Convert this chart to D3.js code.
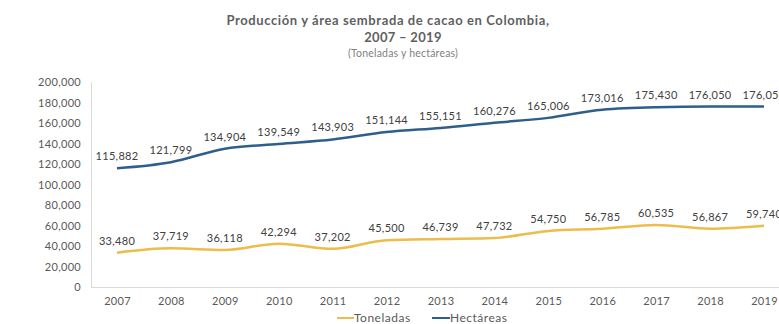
<!DOCTYPE html>
<html>
<head>
<meta charset="utf-8">
<script src="https://cdn.jsdelivr.net/npm/d3@7"></script>
<style>
	body { margin: 0; background: #fff; }
	svg { display: block; font-family: Lato, "Open Sans", sans-serif; }
</style>
</head>
<body>
<div id="chart"></div>
<script>
const years = [2007, 2008, 2009, 2010, 2011, 2012, 2013, 2014, 2015, 2016, 2017, 2018, 2019];
const toneladas = [33480, 37719, 36118, 42294, 37202, 45500, 46739, 47732, 54750, 56785, 60535, 56867, 59740];
const hectareas = [115882, 121799, 134904, 139549, 143903, 151144, 155151, 160276, 165006, 173016, 175430, 176050, 176050];
const yTicks = [0, 20000, 40000, 60000, 80000, 100000, 120000, 140000, 160000, 180000, 200000];

const width = 779, height = 324;
const svg = d3.select("#chart").append("svg").attr("width", width).attr("height", height);

let x = d3.scalePoint().domain(years).range([117, 764]);
let y = d3.scaleLinear().domain([0, 200000]).range([287, 82]);
let fmt = d3.format(",");

// title
svg.append("text").attr("x", 388).attr("y", 25).attr("text-anchor", "middle")
	.attr("font-size", 13).attr("font-weight", "bold").attr("fill", "#5f5f5f").attr("letter-spacing", 0.6)
	.text("Producción y área sembrada de cacao en Colombia,");
svg.append("text").attr("x", 403).attr("y", 42).attr("text-anchor", "middle")
	.attr("font-size", 13).attr("font-weight", "bold").attr("fill", "#5f5f5f").attr("letter-spacing", 0.3)
	.text("2007 – 2019");
svg.append("text").attr("x", 403).attr("y", 57).attr("text-anchor", "middle")
	.attr("font-size", 10.5).attr("fill", "#7f7f7f").attr("letter-spacing", 0.2)
	.text("(Toneladas y hectáreas)");

// axes
let yAxis = d3.axisLeft(y).tickValues(yTicks).tickFormat(fmt).tickSize(0).tickPadding(10);
let gy = svg.append("g").attr("transform", "translate(91,0)").call(yAxis);
gy.select(".domain").attr("stroke", "#d9d9d9");
gy.selectAll("text").attr("font-size", 11).attr("fill", "#595959").attr("font-family", "Lato, sans-serif").attr("letter-spacing", 0.3);

let xAxis = d3.axisBottom(x).tickSize(0).tickPadding(10);
let gx = svg.append("g").attr("transform", "translate(0,287)").call(xAxis);
gx.select(".domain").attr("d", "M91,0.5H779").attr("stroke", "#d9d9d9");
gx.selectAll("text").attr("font-size", 11).attr("fill", "#595959").attr("font-family", "Lato, sans-serif").attr("letter-spacing", 0.3);

let line = d3.line().x((d, i) => x(years[i])).y((d) => y(d)).curve(d3.curveMonotoneX);

const series = [
	{ name: "Toneladas", values: toneladas, color: "#ecbc4c" },
	{ name: "Hectáreas", values: hectareas, color: "#2e5f8c" },
];

series.forEach((s) => {
	svg.append("path").datum(s.values).attr("d", line)
		.attr("fill", "none").attr("stroke", s.color).attr("stroke-width", 2.5);
	svg.append("g").selectAll("text").data(s.values).enter().append("text")
		.attr("x", (d, i) => x(years[i]))
		.attr("y", (d) => y(d) - 8)
		.attr("text-anchor", "middle")
		.attr("font-size", 11)
		.attr("letter-spacing", 0.3)
		.attr("fill", "#404040")
		.text((d) => fmt(d));
});

// legend
let legend = svg.append("g").attr("transform", "translate(337,318)");
legend.append("line").attr("x1", 0).attr("x2", 17).attr("y1", 0).attr("y2", 0).attr("stroke", series[0].color).attr("stroke-width", 2);
legend.append("text").attr("x", 17).attr("y", 4).attr("font-size", 12).attr("letter-spacing", 0.5).attr("fill", "#595959").text(series[0].name);
legend.append("line").attr("x1", 95).attr("x2", 113).attr("y1", 0).attr("y2", 0).attr("stroke", series[1].color).attr("stroke-width", 2);
legend.append("text").attr("x", 113).attr("y", 4).attr("font-size", 12).attr("letter-spacing", 0.5).attr("fill", "#595959").text(series[1].name);
</script>
</body>
</html>
